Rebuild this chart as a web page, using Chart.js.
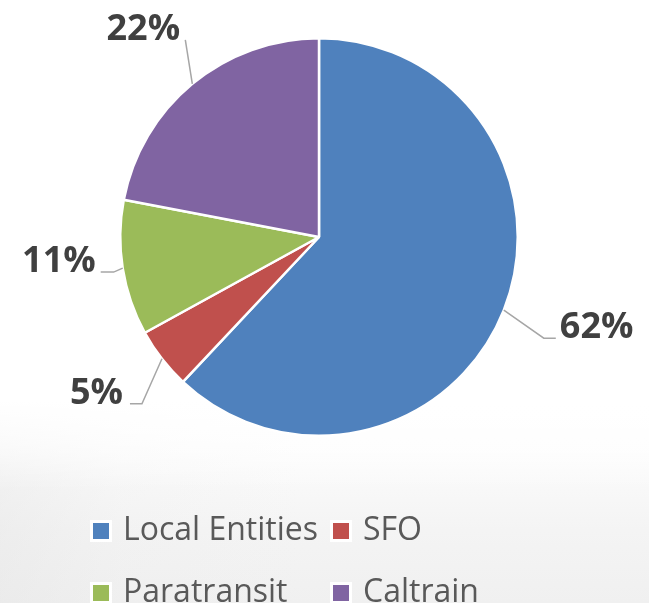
<!DOCTYPE html>
<html>
<head>
<meta charset="utf-8">
<script src="https://cdn.jsdelivr.net/npm/chart.js@4.4.1/dist/chart.umd.min.js"></script>
<style>
  html, body { margin: 0; padding: 0; background: #ffffff; }
  #wrap { position: relative; width: 649px; height: 603px; overflow: hidden; background: #ffffff; }
  #bg {
    position: absolute; left: 0; top: 400px; width: 649px; height: 203px;
    background:
      linear-gradient(to right, rgba(225,225,225,0.35) 0px, rgba(235,235,235,0.2) 120px, rgba(255,255,255,0) 300px),
      linear-gradient(to bottom, #ffffff 0px, #fbfbfb 60px, #f4f4f4 130px, #f0f0f0 203px);
  }
  #bgfade {
    position: absolute; left: 0; top: 400px; width: 649px; height: 90px;
    background: linear-gradient(to bottom, #ffffff 0px, rgba(255,255,255,0.6) 45px, rgba(255,255,255,0) 90px);
  }
  canvas { position: absolute; left: 0; top: 0; }
</style>
</head>
<body>
<div id="wrap"><div id="bg"></div><div id="bgfade"></div><canvas id="c" width="649" height="603"></canvas></div>
<script>
const categories = ["Local Entities", "SFO", "Paratransit", "Caltrain"];
const shareValues = [62, 5, 11, 22];
const sliceColors = ["#4F81BD", "#C0504D", "#9BBB59", "#8064A2"];

// Leader-line / label layout (style only): elbow offset from slice edge, horizontal run, text gap
const labelLayout = [
  { dx: 40, dy: 28, run: 12, align: "left", gap: 4 },
  { dx: -20, dy: 45, run: -12, align: "right", gap: 7 },
  { dx: -9, dy: 4, run: -13, align: "right", gap: 5 },
  { dx: -7, dy: -44, run: 0, align: "center", gap: 0, tx: -42 }
];

const calloutPlugin = {
  id: "callouts",
  afterDatasetsDraw(chart) {
    const ctx = chart.ctx;
    const meta = chart.getDatasetMeta(0);
    const data = chart.data.datasets[0].data;
    const total = data.reduce((a, b) => a + b, 0);
    ctx.save();
    meta.data.forEach((arc, i) => {
      const p = arc.getProps(["x", "y", "startAngle", "endAngle", "outerRadius"], true);
      const mid = (p.startAngle + p.endAngle) / 2;
      const ax = p.x + Math.cos(mid) * p.outerRadius;
      const ay = p.y + Math.sin(mid) * p.outerRadius;
      const L = labelLayout[i];
      const ex = ax + L.dx, ey = ay + L.dy;
      const fx = ex + L.run;
      ctx.strokeStyle = "#A6A6A6";
      ctx.lineWidth = 1.5;
      ctx.beginPath();
      ctx.moveTo(ax, ay);
      ctx.lineTo(ex, ey);
      if (L.run !== 0) ctx.lineTo(fx, ey);
      ctx.stroke();
      const txt = Math.round(data[i] / total * 100) + "%";
      ctx.font = "bold 36px 'Open Sans'";
      ctx.fillStyle = "#404040";
      ctx.textBaseline = "alphabetic";
      ctx.textAlign = L.align;
      let tx = fx;
      if (L.align === "left") tx = fx + L.gap;
      else if (L.align === "right") tx = fx - L.gap;
      else tx = fx + (L.tx || 0);
      ctx.fillText(txt, tx, ey);
    });
    ctx.restore();
  }
};

const legendPlugin = {
  id: "gridLegend",
  afterDraw(chart) {
    const ctx = chart.ctx;
    const labels = chart.data.labels;
    const colors = chart.data.datasets[0].backgroundColor;
    const colX = [93, 333];
    const rowBase = [540, 602];
    ctx.save();
    labels.forEach((lab, i) => {
      const col = i % 2, row = Math.floor(i / 2);
      const bx = colX[col], base = rowBase[row];
      const by = base - 17;
      ctx.fillStyle = "#FFFFFF";
      ctx.fillRect(bx - 3, by - 3, 22, 22);
      ctx.fillStyle = colors[i];
      ctx.fillRect(bx, by, 16, 16);
      ctx.font = "32px 'Open Sans'";
      ctx.fillStyle = "#595959";
      ctx.textAlign = "left";
      ctx.textBaseline = "alphabetic";
      ctx.fillText(lab, bx + 30, base);
    });
    ctx.restore();
  }
};

new Chart(document.getElementById("c"), {
  type: "pie",
  data: {
    labels: categories,
    datasets: [{
      data: shareValues,
      backgroundColor: sliceColors,
      borderColor: "#FFFFFF",
      borderWidth: 2.5
    }]
  },
  options: {
    responsive: false,
    animation: false,
    layout: { padding: { top: 37, bottom: 166, left: 0, right: 11 } },
    plugins: {
      legend: { display: false },
      tooltip: { enabled: false }
    }
  },
  plugins: [calloutPlugin, legendPlugin]
});
</script>
</body>
</html>
